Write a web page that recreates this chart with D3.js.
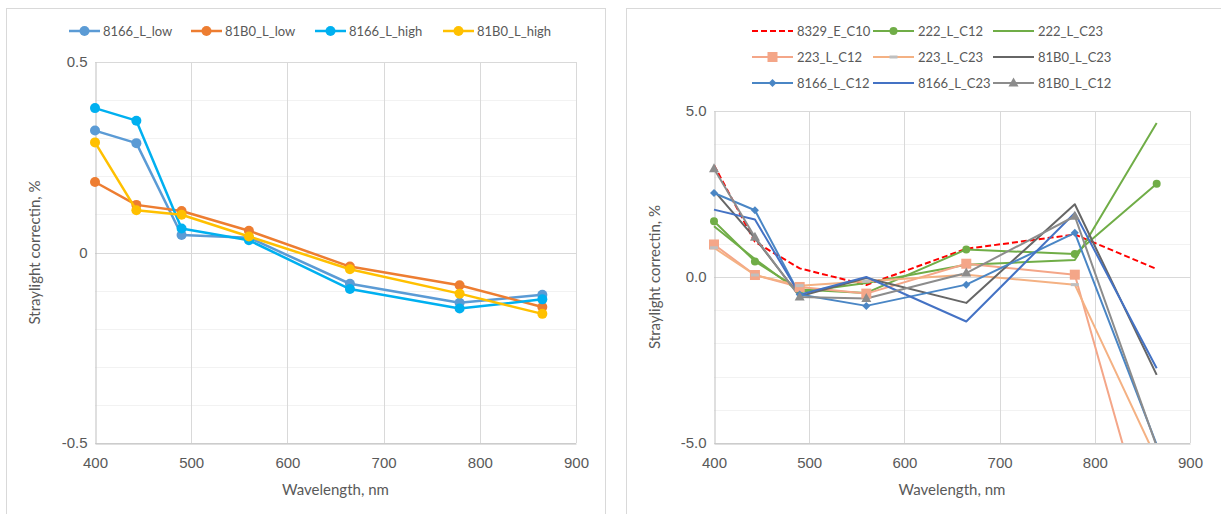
<!DOCTYPE html>
<html>
<head>
<meta charset="utf-8">
<script src="https://cdn.jsdelivr.net/npm/d3@7"></script>
<style>
  body { margin: 0; background: #fff; }
  svg { display: block; font-family: Lato, "Open Sans", sans-serif; }
  .tick text { fill: #595959; }
</style>
</head>
<body>
<div class="visualizations"></div>
<script>
// wavelengths shared by both charts
var wavelengths = [400, 443, 490, 560, 665, 779, 865];

// left chart
var leftNames = ["8166_L_low", "81B0_L_low", "8166_L_high", "81B0_L_high"];
var leftColors = ["#5B9BD5", "#ED7D31", "#00B0F0", "#FFC000"];
var v8166_L_low = [0.320, 0.287, 0.046, 0.039, -0.082, -0.132, -0.111];
var v81B0_L_low = [0.185, 0.125, 0.109, 0.057, -0.037, -0.086, -0.143];
var v8166_L_high = [0.379, 0.346, 0.063, 0.032, -0.096, -0.147, -0.123];
var v81B0_L_high = [0.289, 0.111, 0.099, 0.042, -0.044, -0.108, -0.161];
var leftValues = [v8166_L_low, v81B0_L_low, v8166_L_high, v81B0_L_high];
var leftYTicks = [-0.5, 0, 0.5];

// right chart
var rightNames = ["8329_E_C10", "222_L_C12", "222_L_C23",
                  "223_L_C12", "223_L_C23", "81B0_L_C23",
                  "8166_L_C12", "8166_L_C23", "81B0_L_C12"];
var rightColors = ["#FF0000", "#70AD47", "#70AD47",
                   "#F4A688", "#F4B183", "#666666",
                   "#4A86C5", "#4472C4", "#8C8C8C"];
var rightMarkers = ["none", "circle", "none", "square", "dash", "none", "diamond", "none", "triangle"];
var v8329_E_C10 = [3.37, 1.06, 0.26, -0.24, 0.85, 1.28, 0.24];
var v222_L_C12 = [1.68, 0.47, -0.38, -0.48, 0.83, 0.69, 2.81];
var v222_L_C23 = [1.53, 0.54, -0.45, -0.18, 0.37, 0.51, 4.64];
var v223_L_C12 = [0.98, 0.06, -0.30, -0.50, 0.40, 0.07, -8.65];
var v223_L_C23 = [0.88, 0.06, -0.26, -0.13, 0.07, -0.23, -5.49];
var v81B0_L_C23 = [2.60, 1.17, -0.58, -0.03, -0.78, 2.19, -2.95];
var v8166_L_C12 = [2.53, 2.01, -0.53, -0.87, -0.23, 1.33, -5.05];
var v8166_L_C23 = [2.03, 1.73, -0.53, 0.00, -1.34, 1.93, -2.75];
var v81B0_L_C12 = [3.26, 1.20, -0.60, -0.65, 0.12, 1.83, -5.10];
var rightValues = [v8329_E_C10, v222_L_C12, v222_L_C23, v223_L_C12, v223_L_C23,
                   v81B0_L_C23, v8166_L_C12, v8166_L_C23, v81B0_L_C12];
var rightYTicks = [-5, 0, 5];
var xTicks = [400, 500, 600, 700, 800, 900];

var width = 1221, height = 514;
var svg = d3.select(".visualizations").append("svg").attr("width", width).attr("height", height);

// panel frames
svg.append("rect").attr("x", 6.5).attr("y", 8.5).attr("width", 599).attr("height", 520)
  .style("fill", "#fff").style("stroke", "#D9D9D9");
svg.append("rect").attr("x", 626.5).attr("y", 8.5).attr("width", 620).attr("height", 520)
  .style("fill", "#fff").style("stroke", "#D9D9D9");

function drawFrame(g, x, y, minorStep, yTicks, fmt, titleX) {
  var x0 = x.range()[0], x1 = x.range()[1], y0 = y.range()[0], y1 = y.range()[1];
  var dom = y.domain();
  var minors = d3.range(dom[0], dom[1] + minorStep / 2, minorStep);
  g.selectAll(".minor").data(minors).enter().append("line")
    .attr("x1", x0).attr("x2", x1)
    .attr("y1", function(d) { return Math.round(y(d)) + 0.5; })
    .attr("y2", function(d) { return Math.round(y(d)) + 0.5; })
    .style("stroke", "#F2F2F2").style("stroke-width", 1);
  g.selectAll(".major").data(yTicks).enter().append("line")
    .attr("x1", x0).attr("x2", x1)
    .attr("y1", function(d) { return Math.round(y(d)) + 0.5; })
    .attr("y2", function(d) { return Math.round(y(d)) + 0.5; })
    .style("stroke", "#D9D9D9").style("stroke-width", 1);
  g.selectAll(".vgrid").data(xTicks.slice(1)).enter().append("line")
    .attr("x1", function(d) { return Math.round(x(d)) + 0.5; })
    .attr("x2", function(d) { return Math.round(x(d)) + 0.5; })
    .attr("y1", y1).attr("y2", y0)
    .style("stroke", "#D9D9D9").style("stroke-width", 1);

  var xa = g.append("g").attr("transform", "translate(0," + (Math.round(y0) + 0.5) + ")")
    .call(d3.axisBottom(x).tickValues(xTicks).tickSize(0).tickPadding(14).tickFormat(d3.format("d")));
  xa.select(".domain").style("stroke", "#BFBFBF");
  xa.selectAll("text").style("font-size", "15px");

  var ya = g.append("g").attr("transform", "translate(" + (Math.round(x0) + 0.5) + ",0)")
    .call(d3.axisLeft(y).tickValues(yTicks).tickSize(0).tickPadding(8).tickFormat(fmt));
  ya.select(".domain").style("stroke", "#BFBFBF");
  ya.selectAll("text").style("font-size", "15px");

  g.append("text").attr("x", (x0 + x1) / 2).attr("y", 495)
    .attr("text-anchor", "middle").style("font-size", "15px").style("fill", "#595959")
    .text("Wavelength, nm");
  g.append("text")
    .attr("transform", "translate(" + titleX + "," + ((y0 + y1) / 2) + ") rotate(-90)")
    .attr("text-anchor", "middle").style("font-size", "15px").style("fill", "#595959")
    .text("Straylight correctin, %");
}

function marker(g, type, color, cx, cy) {
  if (type === "circle") {
    g.append("circle").attr("cx", cx).attr("cy", cy).attr("r", 4).style("fill", color);
  } else if (type === "square") {
    g.append("rect").attr("x", cx - 5).attr("y", cy - 5).attr("width", 10).attr("height", 10).style("fill", color);
  } else if (type === "diamond") {
    g.append("path").attr("d", "M" + cx + "," + (cy - 4) + "L" + (cx + 4) + "," + cy + "L" + cx + "," + (cy + 4) + "L" + (cx - 4) + "," + cy + "Z").style("fill", color);
  } else if (type === "triangle") {
    g.append("path").attr("d", "M" + cx + "," + (cy - 5.5) + "L" + (cx + 5) + "," + (cy + 3.5) + "L" + (cx - 5) + "," + (cy + 3.5) + "Z").style("fill", color);
  } else if (type === "dash") {
    g.append("rect").attr("x", cx - 4).attr("y", cy - 1.5).attr("width", 8).attr("height", 3).style("fill", "#BFBFBF");
  }
}

// ---------- left chart ----------
var xL = d3.scaleLinear().domain([400, 900]).range([95, 576]);
var yL = d3.scaleLinear().domain([-0.5, 0.5]).range([443, 62]);
var gL = svg.append("g");
drawFrame(gL, xL, yL, 0.1, leftYTicks, function(d) { return String(d); }, 40);

var lineL = d3.line().x(function(d, i) { return xL(wavelengths[i]); }).y(function(d) { return yL(d); });
leftValues.forEach(function(vals, k) {
  gL.append("path").attr("d", lineL(vals))
    .style("fill", "none").style("stroke", leftColors[k]).style("stroke-width", 2.5).style("stroke-linejoin", "round");
  gL.selectAll(".pt" + k).data(vals).enter().append("circle")
    .attr("cx", function(d, i) { return xL(wavelengths[i]); })
    .attr("cy", function(d) { return yL(d); })
    .attr("r", 5).style("fill", leftColors[k]);
});

var legL = [69, 191, 315, 443];
leftNames.forEach(function(name, k) {
  var lx = legL[k], ly = 31;
  svg.append("line").attr("x1", lx).attr("x2", lx + 31).attr("y1", ly).attr("y2", ly)
    .style("stroke", leftColors[k]).style("stroke-width", 2.5);
  svg.append("circle").attr("cx", lx + 15.5).attr("cy", ly).attr("r", 5).style("fill", leftColors[k]);
  svg.append("text").attr("x", lx + 34).attr("y", ly + 4.5).style("font-size", "13px").style("fill", "#595959").text(name);
});

// ---------- right chart ----------
var xR = d3.scaleLinear().domain([400, 900]).range([714, 1190]);
var yR = d3.scaleLinear().domain([-5, 5]).range([443, 111]);
var gR = svg.append("g");
drawFrame(gR, xR, yR, 1, rightYTicks, function(d) { return d.toFixed(1); }, 660);

svg.append("clipPath").attr("id", "clipR").append("rect")
  .attr("x", 700).attr("y", 100).attr("width", 500).attr("height", 343);
var plotR = gR.append("g").attr("clip-path", "url(#clipR)");
var lineR = d3.line().x(function(d, i) { return xR(wavelengths[i]); }).y(function(d) { return yR(d); });
rightValues.forEach(function(vals, k) {
  plotR.append("path").attr("d", lineR(vals))
    .style("fill", "none").style("stroke", rightColors[k]).style("stroke-width", 2)
    .style("stroke-linejoin", "round")
    .style("stroke-dasharray", k === 0 ? "6,3" : null);
});
rightValues.forEach(function(vals, k) {
  vals.forEach(function(v, i) {
    if (v >= -5 && v <= 5) marker(plotR, rightMarkers[k], rightColors[k], xR(wavelengths[i]), yR(v));
  });
});

var legRX = [752, 873, 993], legRY = [31, 57, 83];
rightNames.forEach(function(name, k) {
  var lx = legRX[k % 3], ly = legRY[Math.floor(k / 3)];
  svg.append("line").attr("x1", lx).attr("x2", lx + 41).attr("y1", ly).attr("y2", ly)
    .style("stroke", rightColors[k]).style("stroke-width", 2)
    .style("stroke-dasharray", k === 0 ? "6,3" : null);
  marker(svg, rightMarkers[k], rightColors[k], lx + 20.5, ly);
  svg.append("text").attr("x", lx + 45).attr("y", ly + 4.5).style("font-size", "13px").style("fill", "#595959").text(name);
});
</script>
</body>
</html>
